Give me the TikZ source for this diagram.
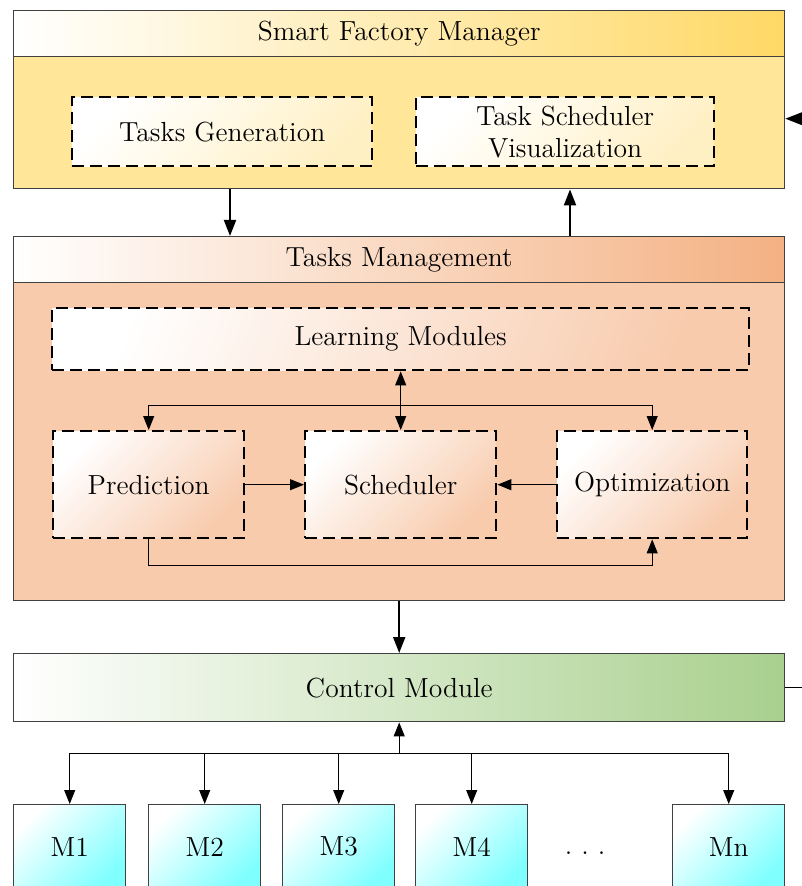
\documentclass[tikz,border=0pt]{standalone}
\usepackage{tikz}
\usetikzlibrary{arrows.meta}
\definecolor{gold}{HTML}{FFD966}
\definecolor{goldbody}{HTML}{FFE699}
\definecolor{goldpale}{HTML}{FFF0C4}
\definecolor{peach}{HTML}{F4B183}
\definecolor{peachbody}{HTML}{F8CBAD}
\definecolor{leaf}{HTML}{A9D08E}
\definecolor{aqua}{HTML}{80FFFF}
\definecolor{frame}{HTML}{404040}
\newcommand{\boxFont}[0]{\fontsize{13.8}{16}\selectfont}

\begin{document}
\begin{tikzpicture}[x=0.5pt, y=-0.5pt, font=\boxFont]
  \tikzset{
    panel/.style={draw=frame, line width=0.7pt, inner sep=0pt, anchor=north west, minimum width=385.5pt},
    header/.style={panel, minimum height=23pt},
    task/.style={draw=black, line width=1.2pt, dash pattern=on 6pt off 3pt, inner sep=0pt, anchor=north west, align=center},
    machine/.style={draw=frame, line width=0.7pt, inner sep=0pt, anchor=north west, minimum width=56pt, minimum height=42pt, top color=white, bottom color=aqua, shading angle=45},
    bigarrow/.style={line width=1pt, -{Triangle[length=8pt,width=6pt]}},
    smallarrow/.style={line width=0.5pt, -{Triangle[length=7pt,width=5.5pt]}},
    bothways/.style={line width=0.5pt, {Triangle[length=7pt,width=5.5pt]}-{Triangle[length=7pt,width=5.5pt]}}
  }
  \path[use as bounding box, fill=white] (0,0) rectangle (801,886);
  % smart factory manager
  \node[header, left color=white, right color=gold] (SFM-head) at (13,10) {Smart Factory Manager};
  \node[panel, fill=goldbody, minimum height=66pt] (SFM-body) at (13,56) {};
  \node[task, top color=white, bottom color=goldpale, shading angle=45, minimum width=150pt, minimum height=34.5pt] (TG) at (71,96) {Tasks Generation};
  \node[task, top color=white, bottom color=goldpale, shading angle=45, minimum width=149pt, minimum height=34.5pt] (TSV) at (415,96) {Task Scheduler\\Visualization};
  % tasks management
  \node[header, left color=white, right color=peach] (TM-head) at (13,236) {Tasks Management};
  \node[panel, fill=peachbody, minimum height=159pt] (TM-body) at (13,282) {};
  \node[task, top color=white, bottom color=peachbody, shading angle=70, minimum width=348.5pt, minimum height=31pt] (LM) at (51,307) {Learning Modules};
  \node[task, top color=white, bottom color=peachbody, shading angle=45, minimum width=95.5pt, minimum height=53.5pt] (P) at (52,430) {Prediction};
  \node[task, top color=white, bottom color=peachbody, shading angle=45, minimum width=95.5pt, minimum height=53.5pt] (S) at (304,430) {Scheduler};
  \node[task, top color=white, bottom color=peachbody, shading angle=45, minimum width=95pt, minimum height=53.5pt] (O) at (556,430) {Optimization};
  % control and machines
  \node[panel, left color=white, right color=leaf, minimum height=34pt] (CM) at (13,653) {Control Module};
  \foreach \x/\m in {13/1,148/2,282/3,415/4,672/n}
    \node[machine] (M-\m) at (\x,804) {M\m};
  \node (dots) at (585,853) {.\hspace{4.5pt}.\hspace{4.5pt}.};

  \coordinate (down-1) at ([xshift=108.5pt]SFM-body.south west);
  \coordinate (up-1) at ([xshift=278.5pt]TM-head.north west);
  \draw[bigarrow] (down-1) -- (down-1 |- TM-head.north);
  \draw[bigarrow] (up-1) -- (up-1 |- SFM-body.south);
  \draw[bigarrow] (TM-body.south) -- (CM.north);

  \coordinate (bus-top) at ([yshift=-17pt]LM.south);
  \draw[bothways] (LM.south) -- (S.north);
  \draw[smallarrow] (bus-top) -| (P.north);
  \draw[smallarrow] (bus-top) -| (O.north);
  \draw[smallarrow] (P.east) -- (S.west);
  \draw[smallarrow] (O.west) -- (S.east);
  \draw[smallarrow] (P.south) -- ++(0,-13pt) -| (O.south);

  \coordinate (bus-low) at ([yshift=-15.5pt]CM.south);
  \draw[smallarrow] (bus-low) -- (CM.south);
  \foreach \m in {1,2,3,4,n}
    \draw[smallarrow] (bus-low) -| (M-\m.north);
  \draw[line width=0.5pt, -{Triangle[length=8.5pt,width=6.5pt]}] (CM.east) -- ++(20pt,0) |- ([yshift=2pt]SFM-body.east);
\end{tikzpicture}
\end{document}
